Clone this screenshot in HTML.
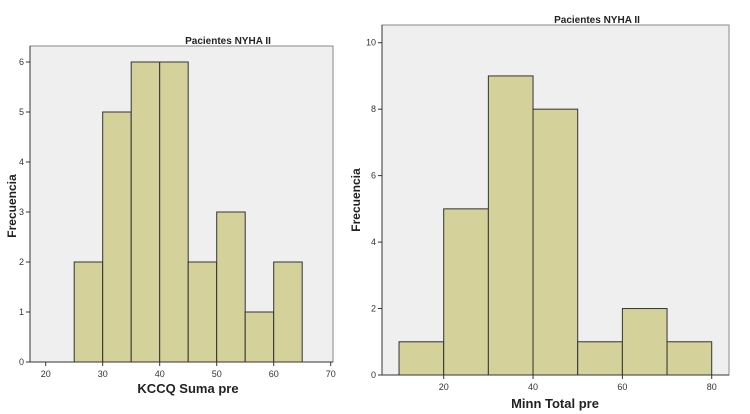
<!DOCTYPE html>
<html><head><meta charset="utf-8"><style>
body{margin:0;background:#fff;width:750px;height:414px;overflow:hidden}
svg{display:block;font-family:"Liberation Sans",sans-serif}
</style></head><body>
<svg id="c" width="750" height="414"></svg>
<script>
const leftCounts=[2,5,6,6,2,3,1,2];
const leftBinStart=25, leftBinWidth=5;
const leftXTicks=[20,30,40,50,60,70];
const leftYTicks=[0,1,2,3,4,5,6];
const rightCounts=[1,5,9,8,1,2,1];
const rightBinStart=10, rightBinWidth=10;
const rightXTicks=[20,40,60,80];
const rightYTicks=[0,2,4,6,8,10];
const NS="http://www.w3.org/2000/svg";
const svg=document.getElementById('c');
function mk(tag,attrs,parent,text){const e=document.createElementNS(NS,tag);for(const k in attrs)e.setAttribute(k,attrs[k]);if(text!==undefined)e.textContent=text;(parent||svg).appendChild(e);return e;}
function chart(o){
  const g=mk('g',{});
  
  
  const bg=mk('rect',{x:o.L,y:o.T,width:o.R-o.L,height:o.B-o.T,fill:'#efefef',stroke:'#888','stroke-width':1},g);
  
  
  const xs=v=>o.x0px+(v-o.x0)*o.xk;
  const ys=v=>o.B-v*o.yk;
  o.counts.forEach((c,i)=>{
    const a=o.binStart+i*o.binW;
    const r=mk('rect',{x:xs(a),y:ys(c),width:xs(a+o.binW)-xs(a),height:ys(0)-ys(c),fill:'#d5d19b',stroke:'#333','stroke-width':1},g);
    
    
  });
  mk('line',{x1:o.L,y1:o.B,x2:o.R,y2:o.B,stroke:'#333'},g);
  mk('line',{x1:o.L,y1:o.T,x2:o.L,y2:o.B,stroke:'#333'},g);
  o.yt.forEach(v=>{
    mk('line',{x1:o.L-4,y1:ys(v),x2:o.L,y2:ys(v),stroke:'#333'},g);
    const t=mk('text',{x:o.L-6,y:ys(v)+3,'font-size':9,fill:'#333','text-anchor':'end'},g,v);
    
    
  });
  o.xt.forEach(v=>{
    mk('line',{x1:xs(v),y1:o.B,x2:xs(v),y2:o.B+4,stroke:'#333'},g);
    const t=mk('text',{x:xs(v),y:o.B+15,'font-size':9,fill:'#333','text-anchor':'middle'},g,v);
    
    
  });
  const ti=mk('text',{x:o.tx,y:o.ty,'font-size':10,'font-weight':'bold',fill:'#222','text-anchor':'middle'},g,'Pacientes NYHA II');
  
  
  const xl=mk('text',{x:o.xlx,y:o.xly,'font-size':13,'font-weight':'bold',fill:'#222','text-anchor':'middle'},g,o.xlabel);
  
  
  const yl=mk('text',{x:0,y:0,'font-size':12,'font-weight':'bold',fill:'#222','text-anchor':'middle',transform:`translate(${o.ylx},${o.yly}) rotate(-90)`},g,'Frecuencia');
  
  
}
chart({name:'left-histogram',L:30,R:333,T:46,B:362,x0:20,x0px:45.7,xk:5.7,yk:50,
  counts:leftCounts,binStart:leftBinStart,binW:leftBinWidth,xt:leftXTicks,yt:leftYTicks,
  tx:228,ty:44,xlabel:'KCCQ Suma pre',xlx:188,xly:393,ylx:16,yly:206});
chart({name:'right-histogram',L:382,R:729,T:25,B:375,x0:20,x0px:443.7,xk:4.467,yk:33.23,
  counts:rightCounts,binStart:rightBinStart,binW:rightBinWidth,xt:rightXTicks,yt:rightYTicks,
  tx:597,ty:23,xlabel:'Minn Total pre',xlx:555,xly:408,ylx:360,yly:200});
</script>
</body></html>
